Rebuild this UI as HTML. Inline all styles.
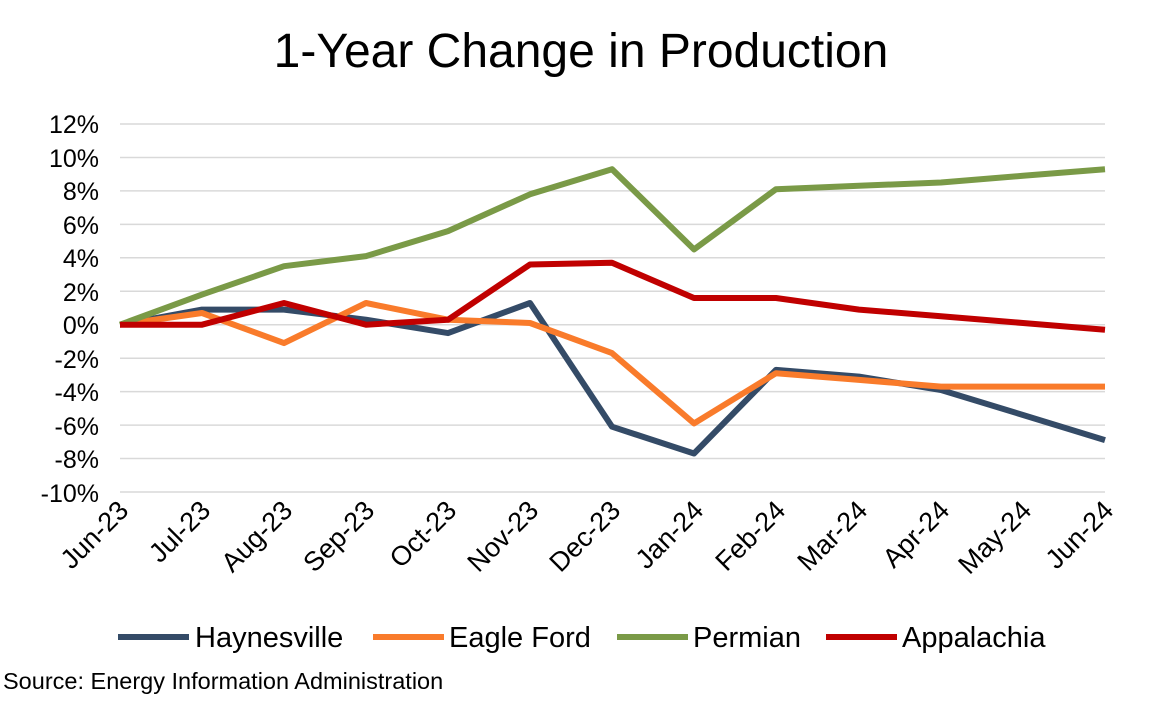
<!DOCTYPE html>
<html><head><meta charset="utf-8"><style>
html,body{margin:0;padding:0;background:#fff;}
svg{display:block;font-family:"Liberation Sans",Arial,sans-serif;}
</style></head><body>
<svg width="1164" height="704" viewBox="0 0 1164 704">
<text x="581" y="67" font-size="48" text-anchor="middle" fill="#000">1-Year Change in Production</text>
<g stroke="#d9d9d9" stroke-width="1.5">
<line x1="120" x2="1105" y1="124" y2="124"/><line x1="120" x2="1105" y1="157.5" y2="157.5"/>
<line x1="120" x2="1105" y1="190.9" y2="190.9"/><line x1="120" x2="1105" y1="224.4" y2="224.4"/>
<line x1="120" x2="1105" y1="257.8" y2="257.8"/><line x1="120" x2="1105" y1="291.3" y2="291.3"/>
<line x1="120" x2="1105" y1="324.7" y2="324.7"/><line x1="120" x2="1105" y1="358.2" y2="358.2"/>
<line x1="120" x2="1105" y1="391.6" y2="391.6"/><line x1="120" x2="1105" y1="425.1" y2="425.1"/>
<line x1="120" x2="1105" y1="458.5" y2="458.5"/><line x1="120" x2="1105" y1="492" y2="492"/>
</g>
<g font-size="25" text-anchor="end" fill="#000">
<text x="99" y="133">12%</text><text x="99" y="167">10%</text><text x="99" y="200">8%</text>
<text x="99" y="234">6%</text><text x="99" y="267">4%</text><text x="99" y="301">2%</text>
<text x="99" y="334">0%</text><text x="99" y="368">-2%</text><text x="99" y="401">-4%</text>
<text x="99" y="435">-6%</text><text x="99" y="468">-8%</text><text x="99" y="502">-10%</text>
</g>
<g font-size="27" text-anchor="end" fill="#000">
<text transform="translate(130,512) rotate(-45)">Jun-23</text>
<text transform="translate(212,512) rotate(-45)">Jul-23</text>
<text transform="translate(294,512) rotate(-45)">Aug-23</text>
<text transform="translate(376,512) rotate(-45)">Sep-23</text>
<text transform="translate(458,512) rotate(-45)">Oct-23</text>
<text transform="translate(540,512) rotate(-45)">Nov-23</text>
<text transform="translate(622,512) rotate(-45)">Dec-23</text>
<text transform="translate(705,512) rotate(-45)">Jan-24</text>
<text transform="translate(787,512) rotate(-45)">Feb-24</text>
<text transform="translate(869,512) rotate(-45)">Mar-24</text>
<text transform="translate(951,512) rotate(-45)">Apr-24</text>
<text transform="translate(1033,512) rotate(-45)">May-24</text>
<text transform="translate(1115,512) rotate(-45)">Jun-24</text>
</g>
<g fill="none" stroke-width="6" stroke-linejoin="round">
<polyline stroke="#344B67" points="120,324.7 202,309.6 284,309.6 366,319.7 448,333.1 530,303 612,426.7 694,453.5 776,369.9 859,376.6 941,390 1023,415 1105,440.1"/>
<polyline stroke="#F97B2B" points="120,324.7 202,313 284,343.1 366,303 448,319.7 530,323 612,353.1 694,423.4 776,373.2 859,379.9 941,386.6 1023,386.6 1105,386.6"/>
<polyline stroke="#7A9A47" points="120,324.7 202,294.6 284,266.2 366,256.1 448,231.1 530,194.3 612,169.2 694,249.4 776,189.2 859,185.8 941,182.5 1023,175.8 1105,169.2"/>
<polyline stroke="#C00000" points="120,324.7 202,324.7 284,303 366,324.7 448,319.7 530,264.5 612,262.8 694,298 776,298 859,309.6 941,316.3 1023,323 1105,329.7"/>
</g>
<g stroke-width="6">
<line x1="118" x2="189" y1="637" y2="637" stroke="#344B67"/>
<line x1="373" x2="444" y1="637" y2="637" stroke="#F97B2B"/>
<line x1="617" x2="688" y1="637" y2="637" stroke="#7A9A47"/>
<line x1="826" x2="897" y1="637" y2="637" stroke="#C00000"/>
</g>
<g font-size="29" fill="#000">
<text x="195" y="647">Haynesville</text>
<text x="449" y="647">Eagle Ford</text>
<text x="693" y="647">Permian</text>
<text x="902" y="647">Appalachia</text>
</g>
<text x="3" y="689" font-size="23.5" fill="#000">Source: Energy Information Administration</text>
</svg>
</body></html>
